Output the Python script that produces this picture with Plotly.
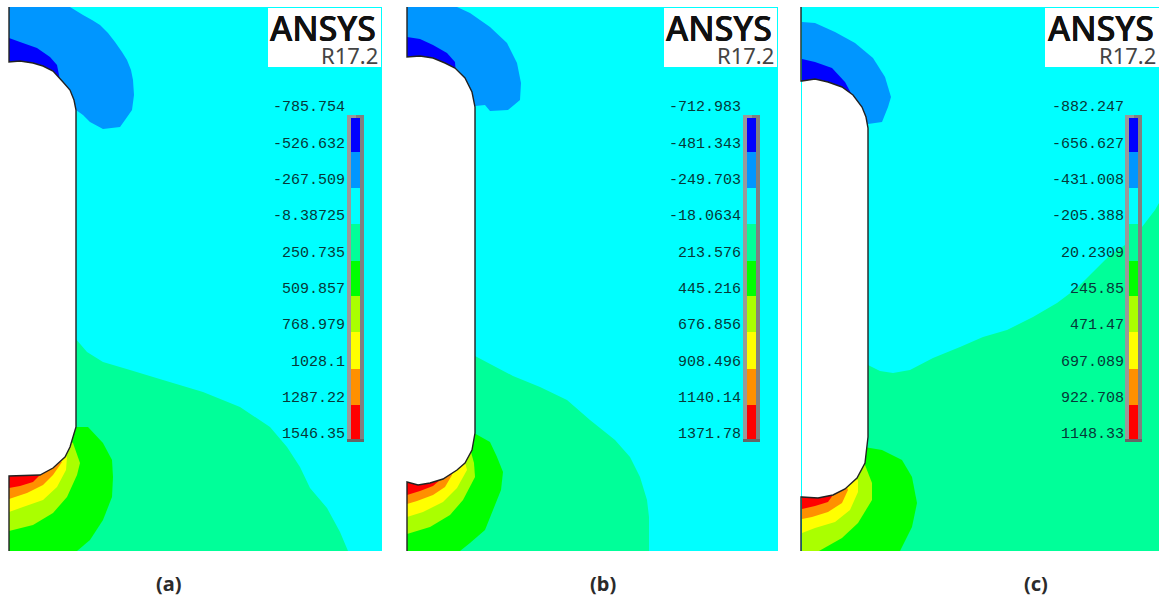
import plotly.graph_objects as go

# Contour band colours, most compressive to most tensile
BAND_COLORS = ["#0000FF", "#0096FF", "#00FFFF", "#00FF99", "#00FF00", "#AAFF00", "#FFFF00", "#FF9000", "#FF0000"]

# Legend level labels
LABELS_A = ["-785.754", "-526.632", "-267.509", "-8.38725", "250.735", "509.857", "768.979", "1028.1", "1287.22", "1546.35"]
LABELS_B = ["-712.983", "-481.343", "-249.703", "-18.0634", "213.576", "445.216", "676.856", "908.496", "1140.14", "1371.78"]
LABELS_C = ["-882.247", "-656.627", "-431.008", "-205.388", "20.2309", "245.85", "471.47", "697.089", "922.708", "1148.33"]
LABEL_Y = [107, 144, 180, 216, 253, 289, 325, 362, 398, 434]
BAND_EDGES = [118, 152, 188, 224, 261, 296, 332, 369, 405, 439]

CAPTIONS = ["(a)", "(b)", "(c)"]
CAPTION_X = [169, 603, 1036]

# Panel (a) region outlines
A_LIGHT = [(9,7),(70,7),(83,15),(92,20),(100,25),(108,33),(115,42),(122,52),(127,60),(131,70),(133,80),(134,95),(132,110),(125,120),(120,127),(103,129),(90,122),(83,115),(76,110),(60,110),(9,110)]
A_DARK = [(9,38),(20,42),(37,48),(50,57),(57,65),(60,80),(9,80)]
A_SEA = [(75,338),(87,352),(103,362),(130,370),(163,380),(203,392),(240,407),(270,427),(287,447),(300,467),(310,488),(327,508),(340,532),(348,551),(9,551),(9,338)]
A_GREEN = [(70,427),(75,427),(88,427),(103,443),(112,460),(113,477),(112,497),(103,520),(90,540),(77,551),(9,551),(9,470)]
A_YG = [(68,440),(73,443),(80,463),(77,475),(67,497),(53,513),(33,525),(9,531),(9,470)]
A_YELLOW = [(64,455),(67,457),(66,470),(57,487),(43,500),(23,507),(9,512),(9,470)]
A_ORANGE = [(58,460),(62,462),(53,475),(43,485),(27,493),(9,499),(9,470)]
A_RED = [(38,470),(40,475),(33,482),(20,486),(9,488),(9,470)]
A_HOLE = [(9,62),(20,61),(33,63),(43,66),(53,71),(63,82),(70,90),(74,100),(76,110),(76,427),(73,437),(70,447),(65,457),(60,462),(53,468),(40,475),(9,476)]

# Panel (b) region outlines
B_LIGHT = [(407,7),(457,7),(470,13),(490,27),(507,43),(517,63),(521,83),(520,100),(508,110),(490,111),(485,105),(475,106),(460,106),(407,106)]
B_DARK = [(407,37),(420,39),(433,45),(447,53),(455,62),(456,75),(407,75)]
B_SEA = [(475,356),(513,376),(540,387),(567,400),(590,420),(615,440),(630,457),(640,477),(647,500),(649,517),(649,551),(407,551),(407,356)]
B_GREEN = [(470,433),(474,433),(490,442),(497,457),(503,472),(501,490),(493,510),(485,530),(470,543),(460,551),(407,551),(407,475)]
B_YG = [(468,450),(471,452),(474,463),(475,477),(463,500),(450,515),(430,527),(407,534),(407,475)]
B_YELLOW = [(462,460),(465,462),(467,470),(457,488),(443,502),(423,512),(407,517),(407,475)]
B_ORANGE = [(450,470),(452,475),(445,487),(433,495),(417,501),(407,504),(407,475)]
B_RED = [(438,475),(440,480),(433,486),(420,491),(407,495),(407,475)]
B_HOLE = [(407,57),(420,56),(433,58),(445,63),(455,68),(465,78),(472,92),(475,107),(475,433),(472,450),(465,463),(457,470),(443,479),(430,483),(418,485),(407,482)]

# Panel (c) region outlines
C_LIGHT = [(802,22),(815,23),(835,32),(855,43),(873,58),(885,77),(891,97),(888,107),(882,122),(868,124),(850,124),(802,124)]
C_DARK = [(802,59),(815,62),(832,68),(845,82),(852,95),(802,95)]
C_SEA = [(868,365),(880,371),(893,373),(910,370),(933,358),(960,347),(983,337),(1007,330),(1033,317),(1057,303),(1077,288),(1093,272),(1108,257),(1125,245),(1142,227),(1155,210),(1159,203),(1159,551),(802,551),(802,365)]
C_GREEN = [(864,447),(882,450),(902,460),(912,477),(917,503),(912,527),(900,551),(802,551),(802,490)]
C_YG = [(862,463),(865,465),(872,483),(872,500),(858,523),(842,538),(819,551),(802,551),(802,490)]
C_YELLOW = [(855,478),(858,480),(858,492),(850,510),(835,522),(815,528),(802,533),(802,490)]
C_ORANGE = [(846,485),(848,490),(842,503),(828,512),(812,517),(802,519),(802,490)]
C_RED = [(830,490),(833,495),(828,502),(815,506),(802,509),(802,490)]
C_HOLE = [(802,81),(815,79),(828,82),(842,87),(853,95),(862,107),(866,117),(868,128),(868,437),(865,463),(857,478),(845,489),(833,495),(818,498),(802,497)]

PANELS = [
    dict(x0=9, x1=382, top=7, bottom=551, bar=347, label_x=345, logo0=268, logo1=381,
         labels=LABELS_A, regions=[A_LIGHT, A_DARK, A_SEA, A_GREEN, A_YG, A_YELLOW, A_ORANGE, A_RED],
         hole=A_HOLE, caption=0),
    dict(x0=407, x1=778, top=7, bottom=551, bar=743, label_x=741, logo0=664, logo1=777,
         labels=LABELS_B, regions=[B_LIGHT, B_DARK, B_SEA, B_GREEN, B_YG, B_YELLOW, B_ORANGE, B_RED],
         hole=B_HOLE, caption=1),
    dict(x0=801, x1=1159, top=7, bottom=551, bar=1125, label_x=1124, logo0=1045, logo1=1159,
         labels=LABELS_C, regions=[C_LIGHT, C_DARK, C_SEA, C_GREEN, C_YG, C_YELLOW, C_ORANGE, C_RED],
         hole=C_HOLE, caption=2),
]
REGION_COLORS = [BAND_COLORS[1], BAND_COLORS[0]] + BAND_COLORS[3:]

fig = go.Figure()


def poly(points, color):
    xs = [p[0] for p in points]
    ys = [p[1] for p in points]
    fig.add_trace(go.Scatter(x=xs, y=ys, fill="toself", fillcolor=color, mode="none",
                             hoverinfo="skip", showlegend=False))


for p in PANELS:
    x0, x1, top, bottom = p["x0"], p["x1"], p["top"], p["bottom"]
    poly([(x0, top), (x1, top), (x1, bottom), (x0, bottom)], "#00FFFF")
    for pts, col in zip(p["regions"], REGION_COLORS):
        poly(pts, col)
    poly(p["hole"], "#FFFFFF")
    # hole outline with the left edge
    hole = p["hole"]
    fig.add_trace(go.Scatter(x=[x0, x0] + [q[0] for q in hole] + [x0, x0],
                             y=[top, hole[0][1]] + [q[1] for q in hole] + [hole[-1][1], bottom],
                             mode="lines", line=dict(color="#222222", width=1.4),
                             hoverinfo="skip", showlegend=False))
    # logo box
    l0, l1 = p["logo0"], p["logo1"]
    poly([(l0, 8), (l1, 8), (l1, 67), (l0, 67)], "#FFFFFF")
    fig.add_annotation(x=l1 - 3, y=28, text="ANSYS", showarrow=False, xanchor="right", yanchor="middle",
                       font=dict(family="Noto Sans", size=34, color="#111111", weight=500,
                                 shadow="0.3px 0 0 #111111, -0.3px 0 0 #111111"))
    fig.add_annotation(x=l1 - 1, y=55, text="R17.2", showarrow=False, xanchor="right", yanchor="middle",
                       font=dict(family="Noto Sans", size=22, color="#444444"))
    # legend frame
    bx = p["bar"]
    poly([(bx, 115), (bx + 9, 115), (bx + 9, 442), (bx, 442)], "#999999")
    poly([(bx + 9, 115), (bx + 17, 115), (bx + 17, 442), (bx + 9, 442)], "#808080")
    poly([(bx, 439), (bx + 17, 439), (bx + 17, 442), (bx, 442)], "#666666")
    # legend bands
    for a, b, col in zip(BAND_EDGES[:-1], BAND_EDGES[1:], BAND_COLORS):
        poly([(bx + 4, a), (bx + 13, a), (bx + 13, b), (bx + 4, b)], col)
    fig.add_trace(go.Scatter(x=[p["label_x"]] * 10, y=LABEL_Y, text=p["labels"], mode="text",
                             textposition="middle left",
                             textfont=dict(family="Liberation Mono", size=15, color="#063838"),
                             hoverinfo="skip", showlegend=False))
    fig.add_annotation(x=CAPTION_X[p["caption"]], y=583, text="<b>%s</b>" % CAPTIONS[p["caption"]],
                       showarrow=False, font=dict(family="Noto Sans", size=20, color="#2b2b2b"))

fig.update_layout(width=1159, height=598, margin=dict(l=0, r=0, t=0, b=0),
                  paper_bgcolor="#FFFFFF", plot_bgcolor="#FFFFFF", showlegend=False,
                  xaxis=dict(range=[0, 1159], visible=False, fixedrange=True),
                  yaxis=dict(range=[598, 0], visible=False, fixedrange=True))

fig.write_html("out.html", config={"displayModeBar": False},
               post_script="document.body.style.margin='0';document.body.style.overflow='hidden';")
